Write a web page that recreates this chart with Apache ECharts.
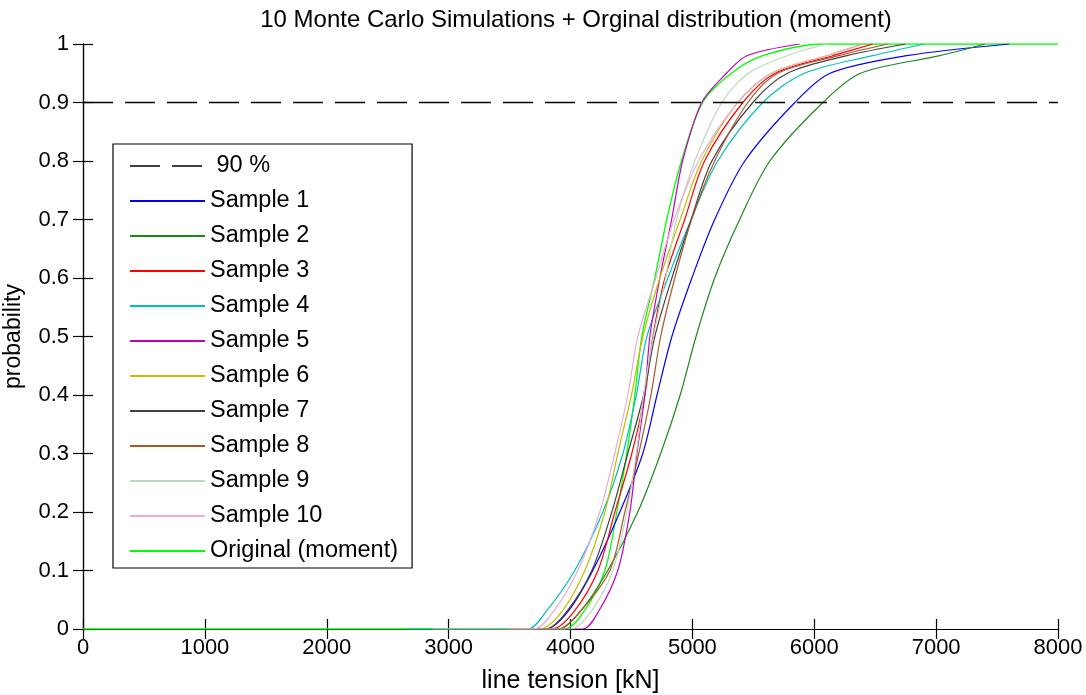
<!DOCTYPE html>
<html>
<head>
<meta charset="utf-8">
<script src="https://cdn.jsdelivr.net/npm/echarts@6/dist/echarts.min.js"></script>
<style>
html,body{margin:0;padding:0;background:#fff;}
#chart{width:1086px;height:695px;}
</style>
</head>
<body>
<div id="chart"></div>
<script>
// ---- data ----
var titleText = '10 Monte Carlo Simulations + Orginal distribution (moment)';
var xTicks = [0, 1000, 2000, 3000, 4000, 5000, 6000, 7000, 8000];
var yTicks = [0, 0.1, 0.2, 0.3, 0.4, 0.5, 0.6, 0.7, 0.8, 0.9, 1];
var refLevel = 0.9;
var refName = ' 90 %';
// probability levels at which the x positions of each curve were read
var probLevels = [0, 0, 0.03, 0.1, 0.2, 0.3, 0.4, 0.5, 0.6, 0.7, 0.8, 0.9, 0.95, 0.98, 1];
var sample1  = [3500, 3800, 3980, 4183, 4405, 4593, 4710, 4832, 4996, 5183, 5430, 5841, 6130, 6759, 7600];
var sample2  = [3500, 3900, 4080, 4306, 4552, 4740, 4900, 5030, 5183, 5388, 5636, 6071, 6380, 7030, 7400];
var sample3  = [3500, 3850, 4030, 4225, 4364, 4503, 4610, 4676, 4775, 4937, 5100, 5414, 5680, 6152, 6480];
var sample4  = [2650, 3650, 3800, 4035, 4265, 4430, 4540, 4627, 4799, 4990, 5208, 5578, 5920, 6480, 6900];
var sample5  = [3570, 4100, 4230, 4388, 4487, 4545, 4610, 4651, 4733, 4830, 4920, 5077, 5280, 5447, 5880];
var sample6  = [3500, 3750, 3930, 4118, 4282, 4388, 4500, 4594, 4733, 4900, 5076, 5372, 5650, 6100, 6400];
var sample7  = [3500, 3800, 3970, 4175, 4339, 4470, 4600, 4692, 4832, 4990, 5160, 5496, 5780, 6267, 6750];
var sample8  = [3500, 3900, 4080, 4323, 4446, 4560, 4660, 4740, 4856, 4994, 5183, 5455, 5700, 6200, 6600];
var sample9  = [3500, 4000, 4170, 4347, 4462, 4540, 4600, 4680, 4780, 4870, 5020, 5241, 5460, 5775, 6100];
var sample10 = [2870, 3700, 3860, 4060, 4240, 4363, 4470, 4553, 4700, 4850, 5050, 5372, 5650, 6100, 6400];
var originalX = [0, 3950, 4110, 4282, 4380, 4462, 4528, 4585, 4692, 4790, 4910, 5085, 5320, 5578, 6070, 8000];
var originalP = [0, 0, 0.03, 0.1, 0.2, 0.3, 0.4, 0.5, 0.6, 0.7, 0.8, 0.9, 0.95, 0.98, 1, 1];
var sampleNames = ['Sample 1','Sample 2','Sample 3','Sample 4','Sample 5','Sample 6','Sample 7','Sample 8','Sample 9','Sample 10'];
var originalName = 'Original (moment)';
var xName = 'line tension [kN]';
var yName = 'probability';

// ---- styles ----
var sampleColors = ['#0000ff','#1a8a1a','#ff0000','#00bfbf','#bf00bf','#bfbf00','#404040','#a65a2a','#bcd8bc','#eeaad6'];
var FONT = 'Liberation Sans, Arial, sans-serif';
var DASH = [30, 12];

function pairs(xs, ps){ return xs.map(function(x,i){ return [x, ps[i]]; }); }
var samples = [sample1,sample2,sample3,sample4,sample5,sample6,sample7,sample8,sample9,sample10];

var series = [];
series.push({
  name: originalName, type: 'line', data: pairs(originalX, originalP),
  showSymbol: false, symbol: 'none', smooth: 0.3,
  lineStyle: {color: '#00ff00', width: 1.3}, itemStyle: {color: '#00ff00'},
  z: 2, silent: true, animation: false
});
samples.forEach(function(xs, i){
  series.push({
    name: sampleNames[i], type: 'line', data: pairs(xs, probLevels),
    showSymbol: false, symbol: 'none', smooth: 0.3,
    lineStyle: {color: sampleColors[i], width: 1.2}, itemStyle: {color: sampleColors[i]},
    z: 3, silent: true, animation: false
  });
});
series.push({
  name: refName, type: 'line', data: [[xTicks[0], refLevel], [xTicks[xTicks.length-1], refLevel]],
  showSymbol: false, symbol: 'none',
  lineStyle: {color: '#000', width: 1.5, type: DASH}, itemStyle: {color: '#000'},
  z: 4, silent: true, animation: false
});

var axisCommon = {
  axisLine: {show: true, lineStyle: {color: '#000', width: 1.2}},
  axisTick: {show: true, inside: true, length: 10, lineStyle: {color: '#000', width: 1.2}},
  splitLine: {show: false}
};

var legendData = [{name: refName, lineStyle: {type: DASH, width: 1.5}}]
  .concat(sampleNames.map(function(n){ return {name: n}; }))
  .concat([{name: originalName}]);

var chart = echarts.init(document.getElementById('chart'), null, {renderer: 'canvas'});
chart.setOption({
  backgroundColor: '#fff',
  animation: false,
  title: {
    text: titleText, left: 571, top: 3, textAlign: 'center',
    textStyle: {fontFamily: FONT, fontSize: 24, fontWeight: 'normal', color: '#000'}
  },
  grid: {left: 83, right: 28, top: 44, bottom: 66, containLabel: false, outerBoundsMode: 'none'},
  legend: {
    orient: 'vertical', left: 113, top: 144,
    data: legendData,
    itemWidth: 75, itemHeight: 20, itemGap: 11,
    padding: [10, 14, 5, 16],
    itemStyle: {opacity: 0},
    borderColor: '#000', borderWidth: 1.2, backgroundColor: '#fff',
    textStyle: {fontFamily: FONT, fontSize: 23.5, color: '#000', lineHeight: 24},
    selectedMode: false
  },
  xAxis: [
    Object.assign({
      type: 'value', min: xTicks[0], max: xTicks[xTicks.length-1], interval: 1000,
      position: 'bottom',
      name: xName, nameLocation: 'middle', nameGap: 40,
      nameTextStyle: {fontFamily: FONT, fontSize: 25, color: '#000'},
      axisLabel: {fontFamily: FONT, fontSize: 22, color: '#000', margin: 8,
        formatter: function(v){ return String(v); }}
    }, axisCommon),
    Object.assign({
      type: 'value', min: xTicks[0], max: xTicks[xTicks.length-1], interval: 1000,
      position: 'top', axisLabel: {show: false}
    }, axisCommon)
  ],
  yAxis: [
    Object.assign({
      type: 'value', min: yTicks[0], max: yTicks[yTicks.length-1], interval: 0.1,
      position: 'left',
      name: yName, nameLocation: 'middle', nameGap: 58,
      nameTextStyle: {fontFamily: FONT, fontSize: 23, color: '#000'},
      axisLabel: {fontFamily: FONT, fontSize: 22, color: '#000', margin: 14,
        formatter: function(v){ return String(+v.toFixed(1)); }}
    }, axisCommon),
    Object.assign({
      type: 'value', min: yTicks[0], max: yTicks[yTicks.length-1], interval: 0.1,
      position: 'right', axisLabel: {show: false}
    }, axisCommon)
  ],
  series: series
});
</script>
</body>
</html>
